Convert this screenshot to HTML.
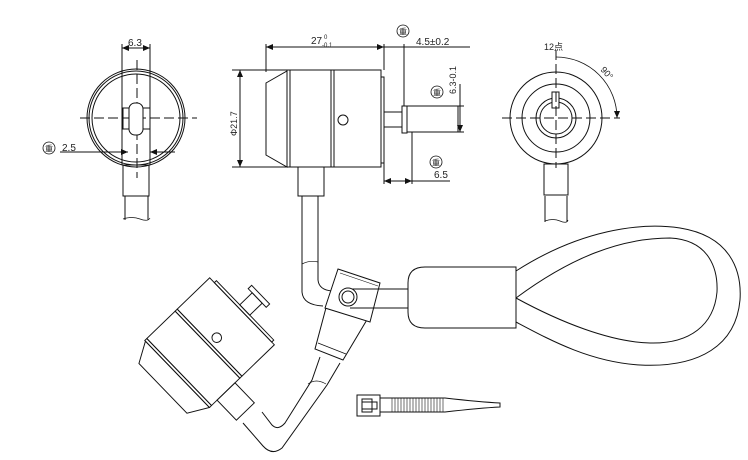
<!DOCTYPE html>
<html><head><meta charset="utf-8"><style>
html,body{margin:0;padding:0;background:#fff;}
svg{display:block;}
text{font-family:"Liberation Sans","Noto Sans CJK SC",sans-serif;fill:#222;}
</style></head><body>
<svg width="748" height="460" viewBox="0 0 748 460" xmlns="http://www.w3.org/2000/svg" fill="none" stroke="#111" stroke-width="1">
<defs>
<marker id="ar" markerWidth="8" markerHeight="6" refX="7" refY="3" orient="auto-start-reverse" markerUnits="userSpaceOnUse"><path d="M0,0 L7,3 L0,6 z" fill="#111" stroke="none"/></marker>
<g id="sym"><circle r="6" stroke-width="0.8"/><text x="0" y="3.5" font-size="8" text-anchor="middle" stroke="none">重</text></g>
<g id="cam">
  <path d="M266,83 L287,71 L287,167 L266,155 Z"/>
  <rect x="287" y="70" width="3" height="97"/>
  <rect x="290" y="70" width="41" height="97"/>
  <rect x="331" y="70" width="3" height="97"/>
  <rect x="334" y="70" width="47" height="97"/>
  <rect x="381" y="77" width="3" height="86"/>
  <circle cx="343" cy="120" r="5"/>
  <rect x="384" y="112" width="18" height="15"/>
  <rect x="402" y="106" width="5" height="27"/>
  <rect x="298" y="167" width="26" height="29"/>
</g>
</defs>

<!-- LEFT FRONT VIEW -->
<circle cx="136" cy="118" r="49"/>
<circle cx="136" cy="118" r="47"/>
<circle cx="136" cy="118" r="44"/>
<path d="M80,118 H197" stroke-dasharray="10,4"/>
<path d="M137,60 V178" stroke-dasharray="10,4"/>
<rect x="123" y="108" width="27" height="21"/>
<rect x="129" y="103" width="14" height="32" rx="6" fill="#fff"/>
<path d="M122,44 V165 M150,44 V165"/>
<path d="M122,48 H150" marker-start="url(#ar)" marker-end="url(#ar)"/>
<text x="128" y="46" font-size="10" stroke="none">6.3</text>
<path d="M60,152 H128" marker-end="url(#ar)"/>
<path d="M150,152 H175" marker-start="url(#ar)"/>
<use href="#sym" x="49" y="148"/>
<text x="62" y="151" font-size="10" stroke="none">2.5</text>
<rect x="123" y="165" width="26" height="31"/>
<path d="M125,196 V220 M148,196 V220"/>
<path d="M123,219 Q132,216 140,219 T150,218" stroke-width="0.7"/>

<!-- SIDE VIEW -->
<use href="#cam"/>
<rect x="407" y="106" width="51" height="26" fill="none"/>
<path d="M302,196 V258 M318,196 V258"/>
<path d="M266,44 V72 M384,44 V70 M404,44 V106"/>
<path d="M266,47 H384" marker-start="url(#ar)" marker-end="url(#ar)"/>
<path d="M384,47 H404 H470"/>
<text x="311" y="44" font-size="10" stroke="none">27</text>
<text x="324" y="39" font-size="6" stroke="none">0</text>
<text x="322" y="47" font-size="6" stroke="none">-0.1</text>
<use href="#sym" x="403" y="31"/>
<text x="416" y="45" font-size="10" stroke="none">4.5±0.2</text>
<path d="M232,70 H287 M232,167 H287"/>
<path d="M240,70 V167" marker-start="url(#ar)" marker-end="url(#ar)"/>
<text transform="translate(237,136) rotate(-90)" font-size="9" stroke="none">Φ21.7</text>
<path d="M458,106 H464 M458,132 H464"/>
<path d="M460,84 V132" marker-end="url(#ar)"/>
<text transform="translate(456,94) rotate(-90)" font-size="9" stroke="none">6.3-0.1</text>
<use href="#sym" x="437" y="92"/>
<path d="M384,163 V184 M412,132 V184"/>
<path d="M384,181 H412" marker-start="url(#ar)" marker-end="url(#ar)"/>
<path d="M412,181 H450"/>
<use href="#sym" x="436" y="162"/>
<text x="434" y="178" font-size="10" stroke="none">6.5</text>

<!-- RIGHT VIEW -->
<circle cx="556" cy="118" r="46"/>
<circle cx="556" cy="118" r="34"/>
<circle cx="556" cy="118" r="20"/>
<circle cx="556" cy="118" r="16"/>
<rect x="552" y="92" width="7" height="16" fill="#fff"/>
<path d="M502,118 H620" stroke-dasharray="10,4"/>
<path d="M556,50 V168" stroke-dasharray="10,4"/>
<path d="M556,57 A61,61 0 0 1 617,118" marker-end="url(#ar)" stroke-width="0.8"/>
<text x="544" y="50" font-size="9" stroke="none">12点</text>
<text transform="translate(600,70) rotate(48)" font-size="9" stroke="none">90°</text>
<rect x="544" y="164" width="24" height="31"/>
<path d="M545,196 V222 M567,196 V222"/>
<path d="M545,221 Q553,218 560,221 T568,220" stroke-width="0.7"/>

<!-- BOTTOM ASSEMBLY -->
<g transform="translate(203,349) rotate(-44) scale(0.96) translate(-324.5,-118.5)"><use href="#cam"/></g>
<!-- top cable down to connector -->
<path d="M302,258 V292 Q303,305 323,306"/>
<path d="M318,258 V280 Q319,290 332,291"/>
<path d="M302,264 Q310,260 318,262" stroke-width="0.7"/>
<!-- lower cable -->
<path d="M243,423 L263,446 Q272,456 282,448 L327,385 L340,363"/>
<path d="M262,412 L272,425 Q278,431 285,423 L312,380 L320,357"/>
<path d="M308,384 Q316,378 326,384" stroke-width="0.7"/>
<!-- connector -->
<path d="M327,304 L368,318 L343,360 L315,349 Z" fill="#fff"/>
<path d="M318,343 L346,354" stroke-width="0.8"/>
<path d="M338,269 L380,283 L370,322 L325,308 Z" fill="#fff"/>
<path d="M340,273 L378,286" stroke-width="0.6"/>
<path d="M350,289 H408 M350,308 H408"/>
<circle cx="348" cy="297" r="9" fill="#fff"/>
<circle cx="348" cy="297" r="6"/>
<!-- ferrule -->
<path d="M425,267 H516 V328 H425 Q408,328 408,312 V283 Q408,267 425,267 Z"/>
<!-- loop -->
<path d="M516,271 C580,230 640,222 680,228 C730,236 742,270 740,300 C736,345 700,368 640,365 C590,362 550,340 516,322"/>
<path d="M516,298 C570,258 620,238 670,238 C710,240 718,270 717,292 C714,325 690,344 650,343 C610,342 560,322 516,298"/>
<!-- cable tie -->
<rect x="357" y="395" width="23" height="21"/>
<rect x="362" y="399" width="10" height="13"/>
<path d="M362,402 H377 V409 H362"/>
<path d="M380,398 H445 Q480,402 500,403 V407 Q480,408 445,412 H380"/>
<g stroke-width="0.6">
<path d="M392,398 V412 M395,398 V412 M398,398 V412 M401,398 V412 M404,398 V412 M407,398 V412 M410,398 V412 M413,398 V412 M416,398 V412 M419,398 V412 M422,398 V412 M425,398 V412 M428,398 V412 M431,398 V412 M434,398 V412 M437,398 V412 M440,398 V412 M443,398 V412"/>
</g>
</svg>
</body></html>
